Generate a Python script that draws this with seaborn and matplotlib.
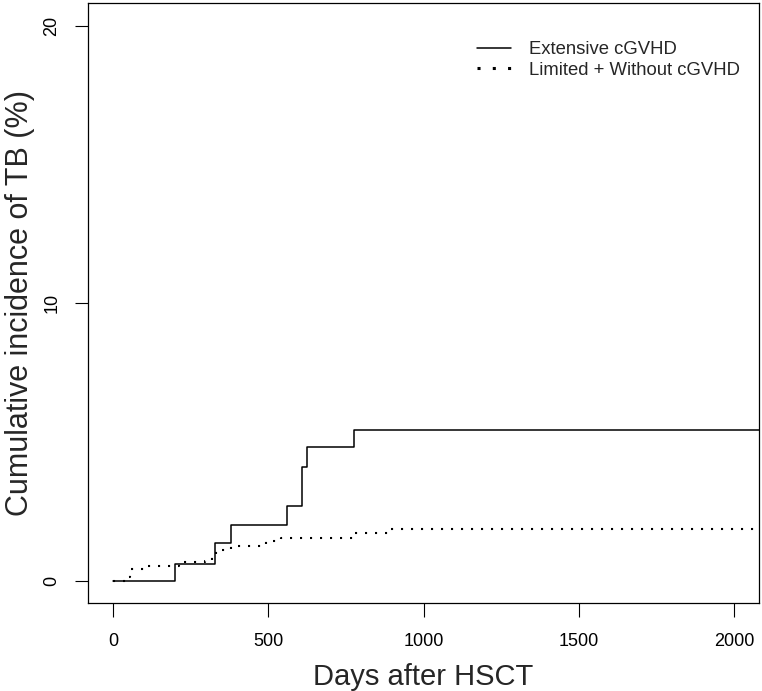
import matplotlib
matplotlib.use("Agg")
import matplotlib.pyplot as plt
from matplotlib.lines import Line2D
import seaborn as sns
import pandas as pd

# ---- data ----
ext_days = [0, 199, 330, 381, 561, 609, 624, 777, 2100]
ext_ci = [0, 0.61, 1.35, 2.02, 2.70, 4.10, 4.80, 5.44, 5.44]

lim_days = [0, 45, 56, 102, 212, 298, 320, 333, 381, 493, 542, 775, 887, 2100]
lim_ci = [0, 0.12, 0.40, 0.53, 0.66, 0.72, 0.88, 1.11, 1.24, 1.41, 1.55, 1.72, 1.85, 1.85]

series_labels = ["Extensive cGVHD", "Limited + Without cGVHD"]
x_ticks = [0, 500, 1000, 1500, 2000]
y_ticks = [0, 10, 20]
x_title = "Days after HSCT"
y_title = "Cumulative incidence of TB (%)"

sns.set_style("ticks")
plt.rcParams["font.family"] = ["Liberation Sans", "DejaVu Sans"]

fig = plt.figure(figsize=(7.62, 6.91), dpi=100)
W, H = 762, 691
left, right, bottom, top = 88, 759, 603.3, 3.3
ax = fig.add_axes([left / W, 1 - bottom / H, (right - left) / W, (bottom - top) / H])

df_ext = pd.DataFrame({"days": ext_days, "ci": ext_ci})
df_lim = pd.DataFrame({"days": lim_days, "ci": lim_ci})

sns.lineplot(data=df_ext, x="days", y="ci", ax=ax, color="black", linewidth=1.1,
             drawstyle="steps-post", estimator=None, sort=False)
sns.lineplot(data=df_lim, x="days", y="ci", ax=ax, color="black", linewidth=1.5,
             linestyle=(0, (1, 3.8)), dash_capstyle="butt",
             drawstyle="steps-post", estimator=None, sort=False)

ax.set_xlim(-80, 2080)
ax.set_ylim(-0.82, 20.82)
ax.set_xticks(x_ticks)
ax.set_xticklabels([str(v) for v in x_ticks])
ax.set_yticks(y_ticks)
ax.set_yticklabels([str(v) for v in y_ticks])

for s in ax.spines.values():
    s.set_visible(True)
    s.set_linewidth(0.9)
    s.set_color("black")

ax.tick_params(axis="x", length=10, width=0.8, pad=11.5, labelsize=13, colors="black")
ax.tick_params(axis="y", length=9.5, width=0.8, pad=10.3, labelsize=13, colors="black",
               labelrotation=90)
for lab in ax.get_yticklabels():
    lab.set_va("center")
    lab.set_ha("right")

ax.set_xlabel(x_title, fontsize=21)
ax.set_ylabel(y_title, fontsize=22)
ax.xaxis.set_label_coords(0.5, -(685 - bottom) / (bottom - top))
ax.xaxis.label.set_va("baseline")
ax.yaxis.set_label_coords(-(left - 28) / (right - left), 0.5)
ax.yaxis.label.set_va("baseline")

handles = [
    Line2D([], [], color="black", linewidth=1.1),
    Line2D([], [], color="black", linewidth=2.2, linestyle=(0, (1, 4)), dash_capstyle="butt"),
]
ax.legend(handles, series_labels, loc="upper right", frameon=False, fontsize=13.3,
          handlelength=1.84, handletextpad=1.0, labelspacing=0.2, borderpad=0,
          borderaxespad=0, bbox_to_anchor=(740 / W, 1 - 41 / H),
          bbox_transform=fig.transFigure)

fig.savefig("out.png", dpi=100)
